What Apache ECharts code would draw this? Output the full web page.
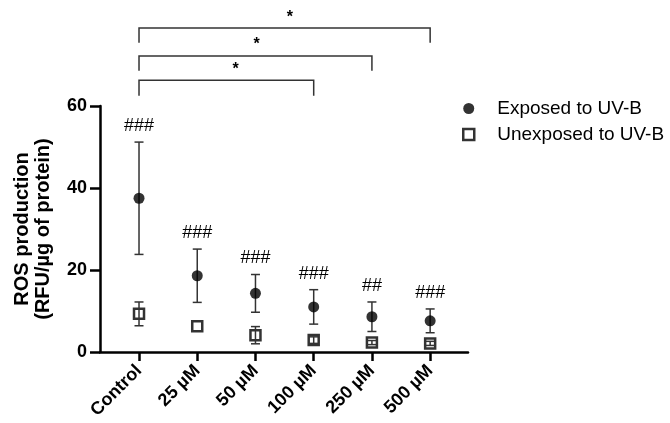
<!DOCTYPE html>
<html>
<head>
<meta charset="utf-8">
<script src="https://cdn.jsdelivr.net/npm/echarts@6/dist/echarts.min.js"></script>
<style>html,body{margin:0;padding:0;background:#fff;}#chart{width:670px;height:423px;}</style>
</head>
<body>
<div id="chart"></div>
<script>
var categories = ['Control', '25 µM', '50 µM', '100 µM', '250 µM', '500 µM'];
var exposedMean = [37.5, 18.6, 14.3, 11.0, 8.6, 7.6];
var exposedSD = [13.7, 6.5, 4.6, 4.2, 3.6, 2.9];
var unexposedMean = [9.3, 6.3, 4.1, 2.9, 2.3, 2.1];
var unexposedSD = [2.9, 0, 2.1, 0.8, 0.5, 0.5];
var hashLabels = ['###', '###', '###', '###', '##', '###'];
var yTicks = [0, 20, 40, 60];
// significance brackets: [fromIndex, toIndex, lineValue, dropValue, starX]
var bracketFrom = [0, 0, 0];
var bracketTo = [3, 4, 5];
var bracketY = [66.3, 72.2, 79.0];
var bracketDrop = [62.5, 68.6, 75.4];
var bracketStarX = [1.66, 2.02, 2.59];
var seriesNames = ['Exposed to UV-B', 'Unexposed to UV-B'];

var FONT = "'Liberation Sans', Arial, Helvetica, sans-serif";
var chart = echarts.init(document.getElementById('chart'), null, {renderer: 'canvas'});

function errData(means, sds) {
  return means.map(function (m, i) { return [i, m, sds[i]]; });
}
function errRender(params, api) {
  var x = api.value(0), m = api.value(1), sd = api.value(2);
  if (!sd) return null;
  var top = api.coord([x, m + sd]);
  var bot = api.coord([x, m - sd]);
  var hw = 4.5;
  var st = {stroke: '#333', lineWidth: 1.5};
  return {
    type: 'group',
    children: [
      {type: 'line', shape: {x1: top[0], y1: top[1], x2: bot[0], y2: bot[1]}, style: st},
      {type: 'line', shape: {x1: top[0] - hw, y1: top[1], x2: top[0] + hw, y2: top[1]}, style: st},
      {type: 'line', shape: {x1: bot[0] - hw, y1: bot[1], x2: bot[0] + hw, y2: bot[1]}, style: st}
    ]
  };
}

var option = {
  backgroundColor: '#fff',
  animation: false,
  textStyle: {fontFamily: FONT},
  grid: {left: 100, right: 202, top: 106, bottom: 71, containLabel: false, outerBoundsMode: 'none'},
  legend: {
    orient: 'vertical',
    left: 457,
    top: 94,
    itemWidth: 11,
    itemHeight: 11,
    itemGap: 7,
    data: [
      {name: seriesNames[0], icon: 'circle', itemStyle: {color: '#000'}},
      {name: seriesNames[1], icon: 'rect', itemStyle: {color: 'rgba(255,255,255,0)', borderColor: '#000', borderWidth: 2.5}}
    ],
    textStyle: {fontFamily: FONT, fontSize: 19, color: '#000', padding: [0, 0, 0, 18]}
  },
  xAxis: {
    type: 'value',
    min: -0.67,
    max: 5.65,
    splitLine: {show: false},
    axisLine: {show: true, onZero: false, lineStyle: {color: '#000', width: 2.5}},
    axisTick: {show: true, customValues: [0, 1, 2, 3, 4, 5], length: 9, lineStyle: {color: '#000', width: 2.5}},
    axisLabel: {
      customValues: [0, 1, 2, 3, 4, 5],
      rotate: 45,
      margin: 16,
      fontFamily: FONT,
      fontWeight: 'bold',
      fontSize: 18,
      color: '#000',
      formatter: function (v) { return categories[Math.round(v)]; }
    }
  },
  yAxis: {
    type: 'value',
    min: 0,
    max: 60,
    interval: 20,
    splitLine: {show: false},
    axisLine: {show: true, onZero: false, lineStyle: {color: '#000', width: 2.5}},
    axisTick: {show: true, length: 10, lineStyle: {color: '#000', width: 2.5}},
    axisLabel: {fontFamily: FONT, fontWeight: 'bold', fontSize: 18, color: '#000', margin: 13},
    name: 'ROS production\n(RFU/µg of protein)',
    nameLocation: 'middle',
    nameGap: 46,
    nameTextStyle: {fontFamily: FONT, fontWeight: 'bold', fontSize: 20, lineHeight: 21, color: '#000'}
  },
  series: [
    {
      type: 'custom', name: 'errExposed', z: 2, silent: true,
      renderItem: errRender, data: errData(exposedMean, exposedSD), clip: false
    },
    {
      type: 'custom', name: 'errUnexposed', z: 4, silent: true,
      renderItem: errRender, data: errData(unexposedMean, unexposedSD), clip: false
    },
    {
      type: 'scatter', name: seriesNames[0], z: 3,
      symbol: 'circle', symbolSize: 11,
      itemStyle: {color: '#000'},
      data: exposedMean.map(function (m, i) { return [i, m]; })
    },
    {
      type: 'scatter', name: seriesNames[1], z: 3,
      symbol: 'rect', symbolSize: 10,
      itemStyle: {color: 'rgba(255,255,255,0)', borderColor: '#000', borderWidth: 2.5},
      data: unexposedMean.map(function (m, i) { return [i, m]; })
    },
    {
      type: 'custom', name: 'hashes', z: 5, silent: true, clip: false,
      data: exposedMean.map(function (m, i) { return [i, m + exposedSD[i]]; }),
      renderItem: function (params, api) {
        var p = api.coord([api.value(0), api.value(1)]);
        return {
          type: 'text',
          style: {
            text: hashLabels[params.dataIndex], x: p[0], y: p[1] - 16,
            align: 'center', verticalAlign: 'middle',
            font: '18px ' + FONT, fill: '#000'
          }
        };
      }
    },
    {
      type: 'custom', name: 'brackets', z: 5, silent: true, clip: false,
      data: bracketFrom.map(function (f, i) { return [f, bracketTo[i], bracketY[i], bracketDrop[i], bracketStarX[i]]; }),
      renderItem: function (params, api) {
        var f = api.value(0), t = api.value(1), y = api.value(2), d = api.value(3), sx = api.value(4);
        var p1 = api.coord([f, d]), p2 = api.coord([f, y]), p3 = api.coord([t, y]), p4 = api.coord([t, d]);
        var s = api.coord([sx, y]);
        return {
          type: 'group',
          children: [
            {type: 'polyline', shape: {points: [p1, p2, p3, p4]}, style: {stroke: '#333', lineWidth: 1.5, fill: null}},
            {type: 'text', style: {text: '*', x: s[0], y: s[1] - 11, align: 'center', verticalAlign: 'middle', font: 'bold 16px ' + FONT, fill: '#000'}}
          ]
        };
      }
    }
  ]
};
chart.setOption(option);
</script>
</body>
</html>
